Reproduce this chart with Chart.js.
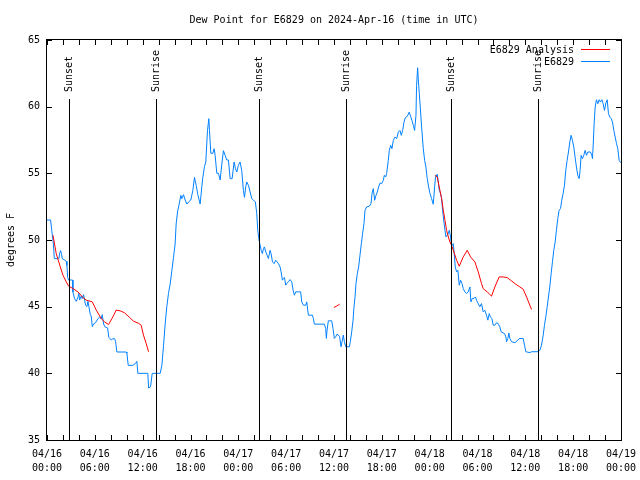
<!DOCTYPE html>
<html>
<head>
<meta charset="utf-8">
<title>Dew Point for E6829</title>
<script src="https://cdn.jsdelivr.net/npm/chart.js@4.4.1/dist/chart.umd.min.js"></script>
<style>
  body { margin: 0; background: #fff; }
  #chartCanvasDew { display: block; }
</style>
</head>
<body>
<canvas id="chartCanvasDew" width="640" height="480"></canvas>
<script>
var chartTitle = 'Dew Point for E6829 on 2024-Apr-16 (time in UTC)';
var yAxisTitle = 'degrees F';

// hours since 04/16 00:00 UTC, dew point in F
var obsHours = [
  0, 0.45, 0.6, 0.8, 0.92, 1.5, 1.58, 1.71, 1.83, 1.92, 2.2, 2.42, 2.5, 2.59, 2.71, 3.2,
  3.25, 3.46, 3.67, 3.88, 4.0, 4.09, 4.3, 4.42, 4.59, 4.72, 4.84, 5.01, 5.13, 5.26, 5.43, 5.55,
  5.68, 5.84, 6.09, 6.39, 6.6, 6.8, 6.93, 7.1, 7.26, 7.6, 7.76, 8.06, 8.27, 8.47, 8.6, 8.77,
  9.94, 10.02, 10.19, 10.77, 11.11, 11.27, 11.4, 12.65, 12.74, 12.99, 13.2, 14.2,
  14.41, 14.62, 14.82, 15.03, 15.24, 15.45, 15.66, 15.87, 16.07, 16.2, 16.37, 16.58, 16.79, 16.91,
  17.12, 17.33, 17.54, 17.75, 18.04, 18.29, 18.5, 18.71, 18.92, 19.21, 19.42, 19.55, 19.75, 19.92,
  20.13, 20.3, 20.38, 20.55, 20.8, 20.97, 21.09, 21.3, 21.51, 21.72, 21.93, 22.13, 22.34, 22.55,
  22.76, 22.97, 23.22, 23.47, 23.64, 23.81, 24.01, 24.22, 24.43, 24.64, 24.77, 24.93, 25.06, 25.27,
  25.48, 25.69, 25.89, 26.14, 26.31, 26.44, 26.6, 26.86, 27.02, 27.15, 27.27, 27.44, 27.61, 27.77,
  27.98, 28.11, 28.28, 28.49, 28.69, 28.86, 29.03, 29.24, 29.36, 29.53, 29.65, 29.78, 29.95, 30.07,
  30.28, 30.49, 30.7, 30.87, 31.03, 31.2, 31.54, 31.82, 31.95, 32.16, 32.45, 32.58, 32.7, 32.79,
  33.29, 33.41, 33.54, 34.79, 34.96, 35.04, 35.13, 35.29, 35.71, 35.88, 36.04, 36.21, 36.38, 36.55,
  36.71, 36.88, 37.05, 37.17, 37.3, 37.47, 37.93, 38.05, 38.22, 38.39, 38.51, 38.64, 38.76, 38.93,
  39.09, 39.26, 39.43, 39.59, 39.76, 39.89, 40.1, 40.43, 40.64, 40.77, 40.93, 41.1, 41.27, 41.43,
  41.6, 41.77, 41.98, 42.19, 42.31, 42.48, 42.6, 42.81, 42.94, 43.11, 43.27, 43.44, 43.65, 43.86,
  44.07, 44.27, 44.44, 44.61, 44.78, 44.94, 45.19, 45.44, 45.61, 45.78, 45.95, 46.11, 46.28, 46.36,
  46.49, 46.57, 46.7, 46.82, 46.99, 47.2, 47.37, 47.53, 47.7, 47.87, 48.04, 48.24, 48.45, 48.62,
  48.74, 48.95, 49.08, 49.2, 49.37, 49.5, 49.62, 49.79, 49.92, 50.04, 50.21, 50.34, 50.46, 50.63,
  50.71, 50.83, 50.96, 51.08, 51.21, 51.38, 51.54, 51.71, 51.88, 52.05, 52.21, 52.42, 52.63, 52.84,
  53.05, 53.17, 53.34, 53.55, 53.75, 53.88, 54.09, 54.29, 54.5, 54.71, 54.92, 55.13, 55.3, 55.47,
  55.63, 55.8, 55.97, 56.18, 56.39, 56.59, 56.8, 56.97, 57.39, 57.56, 57.64, 57.81, 57.93, 58.06,
  58.27, 58.69, 58.98, 59.23, 59.73, 59.9, 60.06, 60.57, 60.78, 61.61, 61.82, 62.03, 62.24, 62.4,
  62.57, 62.74, 62.9, 63.07, 63.24, 63.4, 63.57, 63.74, 63.9, 64.07, 64.24, 64.41, 64.57, 64.74,
  64.91, 65.07, 65.24, 65.41, 65.58, 65.74, 65.91, 66.08, 66.24, 66.41, 66.58, 66.75, 66.87, 67.0,
  67.16, 67.33, 67.5, 67.67, 67.83, 68.0, 68.17, 68.34, 68.42, 68.5, 68.63, 68.76, 68.92, 69.09,
  69.26, 69.43, 69.6, 69.76, 69.93, 70.1, 70.27, 70.43, 70.6, 70.77, 70.93, 71.1, 71.27, 71.44,
  71.6, 71.77, 71.95
];
var obsDew = [
  51.5, 51.5, 50.7, 49.7, 48.6, 48.6, 49.0, 49.2, 48.9, 48.6, 48.5, 48.4, 48.1, 47.2, 47.0, 47.0,
  46.1, 45.6, 45.4, 45.7, 46.0, 45.5, 45.8, 45.6, 45.9, 45.5, 45.1, 45.0, 45.4, 45.0, 44.4, 44.3,
  43.5, 43.7, 43.8, 44.1, 44.2, 44.1, 44.4, 43.7, 43.5, 43.4, 42.7, 42.5, 42.6, 42.6, 42.4, 41.6,
  41.6, 41.5, 40.6, 40.6, 40.75, 40.9, 40.0, 40.0, 38.9, 39.0, 40.0, 40.0,
  40.6, 42.1, 43.7, 45.0, 46.0, 46.7, 47.7, 48.7, 49.7, 51.2, 52.1, 52.7, 53.35, 53.1,
  53.4, 53.0, 52.7, 52.85, 53.0, 53.7, 54.7, 54.1, 53.4, 52.7, 54.0, 54.7, 55.5, 55.85,
  58.2, 59.1, 58.2, 56.5, 56.5, 56.85, 56.35, 55.0, 55.0, 54.5, 55.7, 56.7, 56.35, 56.0,
  56.0, 54.6, 54.6, 55.85, 55.35, 55.1, 55.6, 55.85, 55.2, 53.7, 53.2, 54.0, 54.35, 54.1,
  53.6, 53.1, 53.0, 52.85, 52.0, 50.7, 50.0, 49.23, 48.98, 49.36, 49.48, 49.11, 48.86, 48.61,
  49.23, 48.98, 48.36, 48.23, 48.48, 48.36, 48.23, 47.98, 47.61, 46.99, 47.11, 47.19, 46.61, 46.74,
  46.86, 47.03, 46.86, 46.24, 45.86, 46.11, 46.11, 46.11, 45.36, 45.11, 45.11, 45.36, 44.74, 44.36,
  44.36, 44.11, 43.69, 43.69, 43.36, 42.62, 43.24, 43.94, 43.94, 43.36, 42.62, 42.74, 42.94, 42.87,
  42.74, 41.99, 42.49, 42.87, 42.37, 41.99, 41.99, 42.37, 43.11, 43.99, 44.99, 45.73, 46.74, 47.49,
  47.98, 48.86, 49.73, 50.48, 51.23, 52.23, 52.48, 52.53, 52.73, 53.48, 53.85, 52.98, 53.35, 53.6,
  53.98, 54.27, 54.23, 54.48, 54.85, 54.73, 54.98, 55.97, 56.72, 57.1, 56.85, 57.47, 57.72, 57.6,
  58.1, 58.22, 57.85, 58.22, 58.84, 59.17, 59.27, 59.59, 59.27, 58.97, 58.6, 58.22, 59.34, 61.59,
  62.92, 62.09, 60.97, 59.97, 58.47, 56.85, 55.97, 55.47, 54.6, 53.98, 53.48, 53.1, 52.68, 53.98,
  54.73, 54.93, 54.35, 53.73, 53.48, 53.1, 52.23, 51.35, 50.73, 50.23, 50.36, 50.48, 50.73, 50.23,
  49.73, 49.6, 49.73, 48.98, 47.98, 47.61, 47.73, 46.61, 46.99, 46.74, 46.36, 46.11, 45.99, 46.11,
  46.48, 45.36, 45.61, 45.61, 45.73, 45.48, 45.23, 44.99, 45.23, 44.61, 44.73, 44.36, 43.99, 44.48,
  44.23, 44.11, 43.61, 43.61, 43.79, 43.74, 43.49, 43.11, 42.98, 42.73, 42.37, 42.61, 43.03, 42.61,
  42.37, 42.3, 42.44, 42.61, 42.61, 42.11, 41.62, 41.55, 41.62, 41.62, 41.73, 42.11, 42.86, 43.61,
  44.24, 44.99, 45.73, 46.49, 47.49, 48.36, 49.23, 49.85, 50.73, 51.6, 52.23, 52.36, 52.98, 53.48,
  54.1, 55.22, 55.97, 56.6, 57.35, 57.85, 57.47, 56.97, 56.22, 55.47, 54.85, 54.6, 55.22, 56.35,
  56.1, 56.35, 56.72, 56.35, 56.6, 56.6, 56.6, 56.35, 56.1, 56.97, 58.72, 59.97, 60.52, 60.22,
  60.52, 60.35, 60.52, 60.22, 59.72, 60.27, 60.52, 59.47, 59.22, 59.1, 58.85, 58.22, 57.72, 57.22,
  56.85, 55.97, 55.8
];
// null breaks the analysis line where it has no data
var anaHours = [
  0.75, 1.16, 1.67, 2.0, 2.42, 2.71, 3.25, 3.88, 4.51, 4.92, 5.68, 6.18, 6.8, 7.22, 7.72, 8.27,
  8.68, 9.18, 9.73, 10.36, 10.86, 11.52, 11.81, 12.1, 12.44, 12.74, 24,
  35.99, 36.35, 36.71, 42,
  48.66, 48.95, 49.2, 49.5, 49.71, 49.92, 50.12, 50.34, 50.54, 50.75, 51.04, 51.38, 51.71, 52.21,
  52.71, 53.13, 53.67, 54.09, 54.5, 54.71, 55.22, 55.76, 56.18, 56.72, 57.22, 57.72, 58.27, 58.81,
  59.31, 59.73, 60.15, 60.78
];
var anaDew = [
  50.36, 48.98, 47.98, 47.36, 46.86, 46.54, 46.36, 46.11, 45.69, 45.49, 45.36, 44.74, 44.11, 43.86, 43.66, 44.24,
  44.74, 44.69, 44.54, 44.19, 43.91, 43.74, 43.61, 42.87, 42.24, 41.62, null,
  44.94, 45.05, 45.19, null,
  54.85, 54.73, 53.98, 53.1, 52.23, 51.48, 50.73, 50.23, 49.86, 49.6, 49.1, 48.48, 48.03, 48.73,
  49.23, 48.73, 48.36, 47.61, 46.74, 46.36, 46.11, 45.79, 46.48, 47.23, 47.23, 47.18, 46.93, 46.68,
  46.48, 46.31, 45.73, 44.79
];

var sunHours = [2.71, 13.61, 26.64, 37.5, 50.7, 61.6];
var sunLabels = ['Sunset', 'Sunrise', 'Sunset', 'Sunrise', 'Sunset', 'Sunrise'];

var tickDates = ['04/16', '04/16', '04/16', '04/16', '04/17', '04/17', '04/17', '04/17',
                 '04/18', '04/18', '04/18', '04/18', '04/19'];
var tickTimes = ['00:00', '06:00', '12:00', '18:00', '00:00', '06:00', '12:00', '18:00',
                 '00:00', '06:00', '12:00', '18:00', '00:00'];

var analysisColor = 'rgb(255, 0, 0)';
var obsColor = 'rgb(0, 128, 255)';
var monoFont = '"DejaVu Sans Mono", "Liberation Mono", monospace';

function toPoints(xs, ys) {
  var pts = [];
  for (var i = 0; i < xs.length; i++) {
    pts.push({x: xs[i], y: ys[i]});
  }
  return pts;
}

// gnuplot look: framed box, inward ticks, marker lines, legend text on the left of its sample
var gnuplotDecor = {
  id: 'gnuplotDecor',
  afterDatasetsDraw: function(chart) {
    var ctx = chart.ctx;
    var area = chart.chartArea;
    var xs = chart.scales.x;
    var ys = chart.scales.y;
    var i, p;

    ctx.save();
    ctx.strokeStyle = '#000';
    ctx.fillStyle = '#000';
    ctx.lineWidth = 1;
    ctx.font = '10px ' + monoFont;

    ctx.beginPath();
    for (i = 0; i <= 72; i += 2) {
      p = Math.round(xs.getPixelForValue(i)) + 0.5;
      ctx.moveTo(p, area.bottom);
      ctx.lineTo(p, area.bottom - 5);
      ctx.moveTo(p, area.top);
      ctx.lineTo(p, area.top + 5);
    }
    for (i = 35; i <= 65; i += 5) {
      p = Math.round(ys.getPixelForValue(i)) + 0.5;
      ctx.moveTo(area.left, p);
      ctx.lineTo(area.left + 5, p);
      ctx.moveTo(area.right, p);
      ctx.lineTo(area.right - 5, p);
    }
    ctx.stroke();

    for (i = 0; i < sunHours.length; i++) {
      p = Math.round(xs.getPixelForValue(sunHours[i])) + 0.5;
      ctx.beginPath();
      ctx.moveTo(p, area.top + 59);
      ctx.lineTo(p, area.bottom);
      ctx.stroke();
      ctx.save();
      ctx.translate(p, area.top + 52);
      ctx.rotate(-Math.PI / 2);
      ctx.textAlign = 'left';
      ctx.textBaseline = 'middle';
      ctx.fillText(sunLabels[i], 0, 0);
      ctx.restore();
    }

    ctx.strokeRect(area.left - 0.5, area.top - 0.5, area.width + 1, area.height + 1);

    // legend
    ctx.textAlign = 'right';
    ctx.textBaseline = 'middle';
    var legendY = [50, 62];
    var legendColors = [analysisColor, obsColor];
    var sets = chart.data.datasets;
    for (i = 0; i < sets.length; i++) {
      ctx.fillStyle = '#000';
      ctx.fillText(sets[i].label, area.right - 47, legendY[i]);
      ctx.fillStyle = legendColors[i];
      ctx.fillRect(area.right - 40, legendY[i] - 1, 29, 1);
    }

    // title and y axis label
    ctx.fillStyle = '#000';
    ctx.textAlign = 'center';
    ctx.fillText(chartTitle, (area.left + area.right) / 2, 20);
    ctx.save();
    ctx.translate(11, (area.top + area.bottom) / 2);
    ctx.rotate(-Math.PI / 2);
    ctx.fillText(yAxisTitle, 0, 0);
    ctx.restore();

    ctx.restore();
  }
};

function setDewChart() {
  var ctx = document.getElementById('chartCanvasDew').getContext('2d');
  Chart.defaults.font.family = monoFont;
  Chart.defaults.font.size = 10;
  Chart.defaults.color = '#000';

  var chart = new Chart(ctx, {
    type: 'line',
    data: {
      datasets: [
        {
          label: 'E6829 Analysis',
          data: toPoints(anaHours, anaDew),
          borderColor: analysisColor,
          borderWidth: 1,
          pointRadius: 0,
          tension: 0,
          spanGaps: false,
          fill: false
        },
        {
          label: 'E6829',
          data: toPoints(obsHours, obsDew),
          borderColor: obsColor,
          borderWidth: 1,
          pointRadius: 0,
          tension: 0,
          fill: false
        }
      ]
    },
    options: {
      responsive: false,
      animation: false,
      events: [],
      layout: {
        padding: {left: 0, right: 19, top: 40, bottom: 0}
      },
      plugins: {
        legend: {display: false},
        title: {display: false},
        tooltip: {enabled: false}
      },
      scales: {
        x: {
          type: 'linear',
          min: 0,
          max: 72,
          grid: {display: false, drawTicks: false},
          border: {display: false},
          afterFit: function(scale) {
            scale.height = 40;
            scale.paddingLeft = 0;
            scale.paddingRight = 0;
          },
          ticks: {
            stepSize: 6,
            autoSkip: false,
            maxRotation: 0,
            padding: 8,
            font: {size: 10, lineHeight: 1.35},
            callback: function(value) {
              var i = Math.round(value / 6);
              return [tickDates[i], tickTimes[i]];
            }
          }
        },
        y: {
          min: 35,
          max: 65,
          grid: {display: false, drawTicks: false},
          border: {display: false},
          afterFit: function(scale) {
            scale.width = 47;
            scale.paddingTop = 0;
            scale.paddingBottom = 0;
          },
          ticks: {
            stepSize: 5,
            padding: 7,
            font: {size: 10}
          }
        }
      }
    },
    plugins: [gnuplotDecor]
  });
}

setDewChart();
</script>
</body>
</html>
